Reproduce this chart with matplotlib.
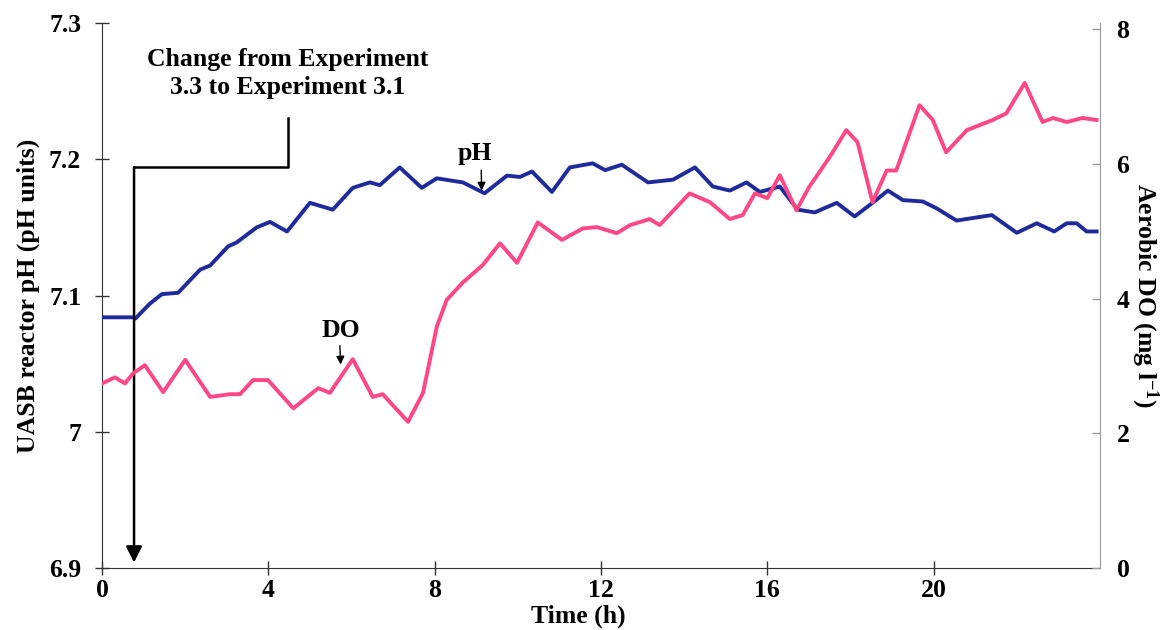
import numpy as np
import matplotlib.pyplot as plt

plt.rcParams['font.family'] = ['Liberation Serif', 'DejaVu Serif']
plt.rcParams['font.weight'] = 'bold'
plt.rcParams['mathtext.default'] = 'regular'

# pH trace (time in h, pH units)
ph_time = [0.0, 0.75, 0.8, 1.15, 1.44, 1.83, 2.36, 2.6, 3.03, 3.24, 3.72, 4.04, 4.45,
           5.0, 5.55, 6.03, 6.44, 6.68, 7.16, 7.69, 8.05, 8.68, 9.2, 9.74, 10.05,
           10.34, 10.82, 11.25, 11.8, 12.1, 12.5, 13.13, 13.73, 14.26, 14.69, 15.1,
           15.5, 15.82, 16.3, 16.73, 17.14, 17.67, 18.1, 18.53, 18.9, 19.26, 19.74,
           20.07, 20.55, 21.4, 22.0, 22.48, 22.9, 23.2, 23.44, 23.68, 23.92]
ph_value = [7.084, 7.084, 7.083, 7.094, 7.101, 7.102, 7.119, 7.122, 7.136, 7.139,
            7.150, 7.154, 7.147, 7.168, 7.163, 7.179, 7.183, 7.181, 7.194, 7.179,
            7.186, 7.183, 7.175, 7.188, 7.187, 7.191, 7.176, 7.194, 7.197, 7.192,
            7.196, 7.183, 7.185, 7.194, 7.180, 7.177, 7.183, 7.176, 7.180, 7.163,
            7.161, 7.168, 7.158, 7.168, 7.177, 7.170, 7.169, 7.164, 7.155, 7.159,
            7.146, 7.153, 7.147, 7.153, 7.153, 7.147, 7.147]

# aerobic dissolved oxygen trace (mg/l)
do_time = [0.0, 0.31, 0.55, 0.75, 1.03, 1.47, 2.0, 2.6, 3.08, 3.32, 3.63, 3.99, 4.6,
           5.2, 5.48, 6.03, 6.51, 6.75, 7.36, 7.72, 8.05, 8.29, 8.68, 9.16, 9.57,
           9.98, 10.48, 11.06, 11.56, 11.9, 12.38, 12.7, 13.17, 13.41, 14.13, 14.62,
           15.1, 15.41, 15.7, 16.0, 16.3, 16.7, 17.0, 17.5, 17.9, 18.17, 18.53,
           18.87, 19.1, 19.66, 19.98, 20.3, 20.8, 21.42, 21.75, 22.19, 22.62, 22.87,
           23.2, 23.58, 23.92]
do_value = [2.74, 2.83, 2.74, 2.89, 3.01, 2.61, 3.09, 2.54, 2.58, 2.58, 2.79, 2.79,
            2.37, 2.67, 2.60, 3.10, 2.54, 2.58, 2.17, 2.60, 3.58, 3.98, 4.24, 4.50,
            4.82, 4.53, 5.13, 4.87, 5.04, 5.06, 4.97, 5.09, 5.18, 5.09, 5.56, 5.43,
            5.18, 5.24, 5.56, 5.49, 5.83, 5.31, 5.65, 6.10, 6.50, 6.32, 5.43, 5.90,
            5.90, 6.87, 6.65, 6.17, 6.50, 6.65, 6.75, 7.20, 6.62, 6.68, 6.62, 6.68,
            6.65]

x_ticks = [0, 4, 8, 12, 16, 20]
ph_ticks = [6.9, 7.0, 7.1, 7.2, 7.3]
ph_tick_labels = ['6.9', '7', '7.1', '7.2', '7.3']
do_ticks = [0, 2, 4, 6, 8]

# change-of-experiment marker path (time, pH)
change_x = [4.47, 4.47, 0.77]
change_y = [7.230, 7.194, 7.194]
arrow_tip = (0.77, 6.904)

FS = 18.5

fig = plt.figure(figsize=(11.62, 6.30), dpi=100)
ax = fig.add_axes([0.0878, 0.0984, 0.8588, 0.8651])
ax2 = ax.twinx()

ax.plot(ph_time, ph_value, color='#1f2b9c', lw=2.8, zorder=3)
ax2.plot(do_time, do_value, color='#ff4784', lw=2.8, zorder=3)

ax.set_xlim(0, 24)
ax.set_ylim(6.9, 7.3)
ax2.set_ylim(0, 8.09)

ax.set_xticks(x_ticks)
ax.set_yticks(ph_ticks)
ax.set_yticklabels(ph_tick_labels)
ax2.set_yticks(do_ticks)

ax.spines['top'].set_visible(False)
ax2.spines['top'].set_visible(False)
ax2.spines['right'].set_color('#999999')
ax2.spines['left'].set_visible(False)
ax2.spines['bottom'].set_visible(False)
ax.spines['right'].set_visible(False)
ax.spines['left'].set_color('#333333')
ax.spines['bottom'].set_color('#333333')

ax.tick_params(axis='both', direction='inout', length=10, width=1, colors='#333333',
               labelsize=FS, labelcolor='black')
ax.tick_params(axis='x', pad=3)
ax.tick_params(axis='y', pad=10)
ax2.tick_params(axis='y', direction='in', length=6, width=1, colors='#999999',
                labelsize=FS, labelcolor='black', pad=12)

ax.set_xlabel('Time (h)', fontsize=FS, fontweight='bold', labelpad=0)
ax.xaxis.set_label_coords(0.477, -0.068)
ax.set_ylabel('UASB reactor pH (pH units)', fontsize=FS, fontweight='bold')
ax.yaxis.set_label_coords(-0.062, 0.5)
ax2.set_ylabel('Aerobic DO (mg l$^{-1}$)', fontsize=FS, fontweight='bold',
               rotation=270, labelpad=22)

# change marker: bracket line plus a long arrow down to the time axis
ax.plot(change_x, change_y, color='black', lw=1.8, zorder=4, solid_capstyle='projecting')
ax.annotate('', xy=arrow_tip, xytext=(change_x[-1], change_y[-1]),
            arrowprops=dict(arrowstyle='-|>', color='black', lw=1.8,
                            mutation_scale=24, shrinkA=0, shrinkB=0), zorder=4)
ax.text(4.47, 7.263, 'Change from Experiment\n3.3 to Experiment 3.1',
        ha='center', va='center', fontsize=FS, fontweight='bold', linespacing=1.25)

# series labels
ax.text(8.97, 7.204, 'pH', ha='center', va='center', fontsize=FS, fontweight='bold')
ax.annotate('', xy=(9.13, 7.177), xytext=(9.12, 7.192),
            arrowprops=dict(arrowstyle='-|>', color='black', lw=1, mutation_scale=12,
                            shrinkA=0, shrinkB=0))
ax2.text(5.75, 3.52, 'DO', ha='center', va='center', fontsize=FS, fontweight='bold')
ax2.annotate('', xy=(5.74, 3.02), xytext=(5.72, 3.3),
             arrowprops=dict(arrowstyle='-|>', color='black', lw=1, mutation_scale=12,
                             shrinkA=0, shrinkB=0))

fig.savefig('out.png', dpi=100)
